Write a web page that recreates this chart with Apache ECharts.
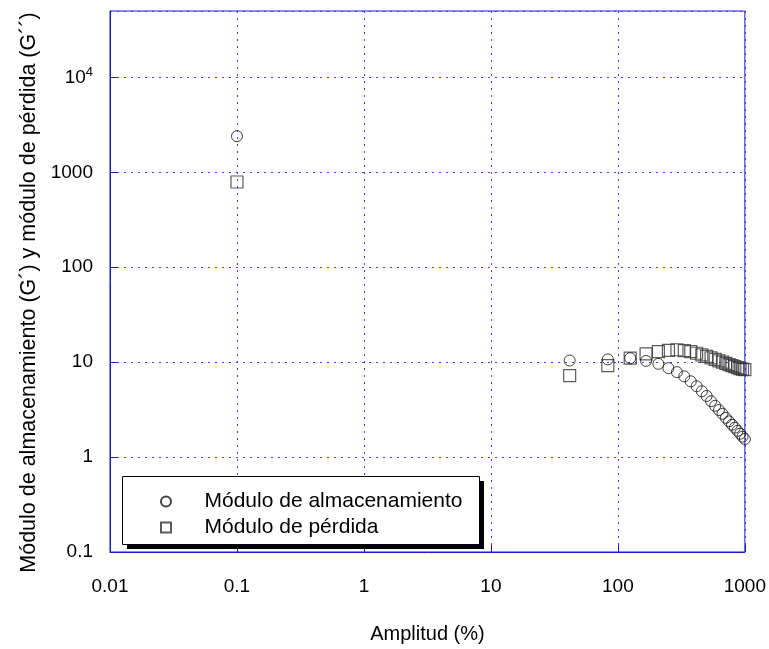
<!DOCTYPE html>
<html>
<head>
<meta charset="utf-8">
<script src="https://cdn.jsdelivr.net/npm/echarts@6/dist/echarts.min.js"></script>
<style>
  html, body { margin: 0; padding: 0; background: #fff; }
  #chart { width: 769px; height: 649px; }
</style>
</head>
<body>
<div id="chart"></div>
<script>
// amplitude (%) for each measurement
const amplitude = [0.1, 41.7, 83.3, 125, 166.7, 208.3, 250, 291.7, 333.3, 375, 416.7, 458.3, 500,
  541.7, 583.3, 625, 666.7, 708.3, 750, 791.7, 833.3, 875, 916.7, 958.3, 1000];
// storage modulus G'
const storage = [2400, 10.4, 10.7, 11.0, 10.3, 9.6, 8.65, 7.85, 7.08, 6.28, 5.57, 4.93, 4.4,
  3.88, 3.47, 3.13, 2.85, 2.59, 2.38, 2.19, 2.04, 1.89, 1.76, 1.64, 1.55];
// loss modulus G''
const loss = [790, 7.2, 9.2, 11.0, 12.2, 12.9, 13.3, 13.5, 13.2, 12.9, 12.4, 11.9, 11.5,
  11.1, 10.7, 10.3, 10.0, 9.7, 9.4, 9.2, 8.95, 8.74, 8.55, 8.43, 8.33];

const xTickLabels = ["0.01", "0.1", "1", "10", "100", "1000"];   // 10^-2 .. 10^3
const yTickLabels = ["0.1", "1", "10", "100", "1000", "10^4"];   // 10^-1 .. 10^4

const seriesNames = ["Módulo de almacenamiento", "Módulo de pérdida"];

const blue = "#1a1ad6";
const gridBlue = "#3b3bef";
const font = "Liberation Sans, Arial, sans-serif";

const chart = echarts.init(document.getElementById("chart"), null, { renderer: "canvas" });

const pairs = (ys) => amplitude.map((x, i) => [x, ys[i]]);

chart.setOption({
  animation: false,
  backgroundColor: "#fff",
  textStyle: { fontFamily: font, color: "#000" },
  grid: { left: 110, right: 23, top: 11, bottom: 92, show: true, borderColor: blue, borderWidth: 1 },
  // legend frame with its drop shadow
  graphic: [
    { type: "rect", z: 10, silent: true, shape: { x: 127, y: 481, width: 357, height: 68 }, style: { fill: "#000" } },
    { type: "rect", z: 11, silent: true, shape: { x: 122.5, y: 476.5, width: 357, height: 68 }, style: { fill: "#fff", stroke: "#000", lineWidth: 1 } },
  ],
  legend: {
    z: 20,
    left: 150,
    top: 478,
    orient: "vertical",
    padding: [11, 10, 7, 10],
    itemGap: 1,
    itemWidth: 67,
    itemHeight: 10,
    textStyle: { fontFamily: font, fontSize: 21, color: "#000", lineHeight: 25 },
    data: [
      { name: seriesNames[0], icon: "circle" },
      { name: seriesNames[1], icon: "path://M0,0h10v10h-10z" },
    ],
  },
  xAxis: {
    type: "log",
    logBase: 10,
    min: 0.01,
    max: 1000,
    name: "Amplitud (%)",
    nameLocation: "middle",
    nameGap: 72,
    nameTextStyle: { fontFamily: font, fontSize: 20, color: "#000" },
    axisLine: { lineStyle: { color: blue, width: 1 } },
    axisTick: { show: true, inside: true, length: 7, lineStyle: { color: blue } },
    minorTick: { show: false },
    splitLine: { show: true, lineStyle: { color: gridBlue, type: [2, 5], width: 1 } },
    axisLabel: {
      margin: 25,
      fontSize: 19,
      color: "#000",
      fontFamily: font,
      formatter: (v) => xTickLabels[Math.round(Math.log10(v)) + 2] ?? "",
    },
  },
  yAxis: {
    type: "log",
    logBase: 10,
    min: 0.1,
    max: 50000,
    name: "Módulo de almacenamiento (G´) y módulo de pérdida (G´´)",
    nameLocation: "middle",
    nameGap: 70,
    nameTextStyle: { fontFamily: font, fontSize: 21.5, color: "#000", padding: [0, 22, 0, 0] },
    axisLine: { lineStyle: { color: blue, width: 1 } },
    axisTick: { show: true, inside: true, length: 7, lineStyle: { color: blue } },
    minorTick: { show: false },
    splitLine: { show: true, lineStyle: { color: gridBlue, type: [2, 5], width: 1 } },
    axisLabel: {
      margin: 17,
      fontSize: 19,
      color: "#000",
      fontFamily: font,
      showMaxLabel: false,
      formatter: (v) => {
        const lab = yTickLabels[Math.round(Math.log10(v)) + 1];
        if (!lab) return "";
        if (lab.includes("^")) {
          const [b, e] = lab.split("^");
          return `{b|${b}}{e|${e}}`;
        }
        return lab;
      },
      rich: {
        b: { fontSize: 19, fontFamily: font, color: "#000" },
        e: { fontSize: 13, fontFamily: font, color: "#000", verticalAlign: "top", padding: [0, 0, 10, 0] },
      },
    },
  },
  series: [
    {
      name: seriesNames[0],
      type: "scatter",
      symbol: "circle",
      symbolSize: 11,
      itemStyle: { color: "rgba(255,255,255,0)", borderColor: "#111", borderWidth: 1 },
      data: pairs(storage),
      z: 3,
    },
    {
      name: seriesNames[1],
      type: "scatter",
      symbol: "rect",
      symbolSize: 12,
      itemStyle: { color: "rgba(255,255,255,0)", borderColor: "#333", borderWidth: 1.2 },
      data: pairs(loss),
      z: 2,
    },
  ],
});
</script>
</body>
</html>
